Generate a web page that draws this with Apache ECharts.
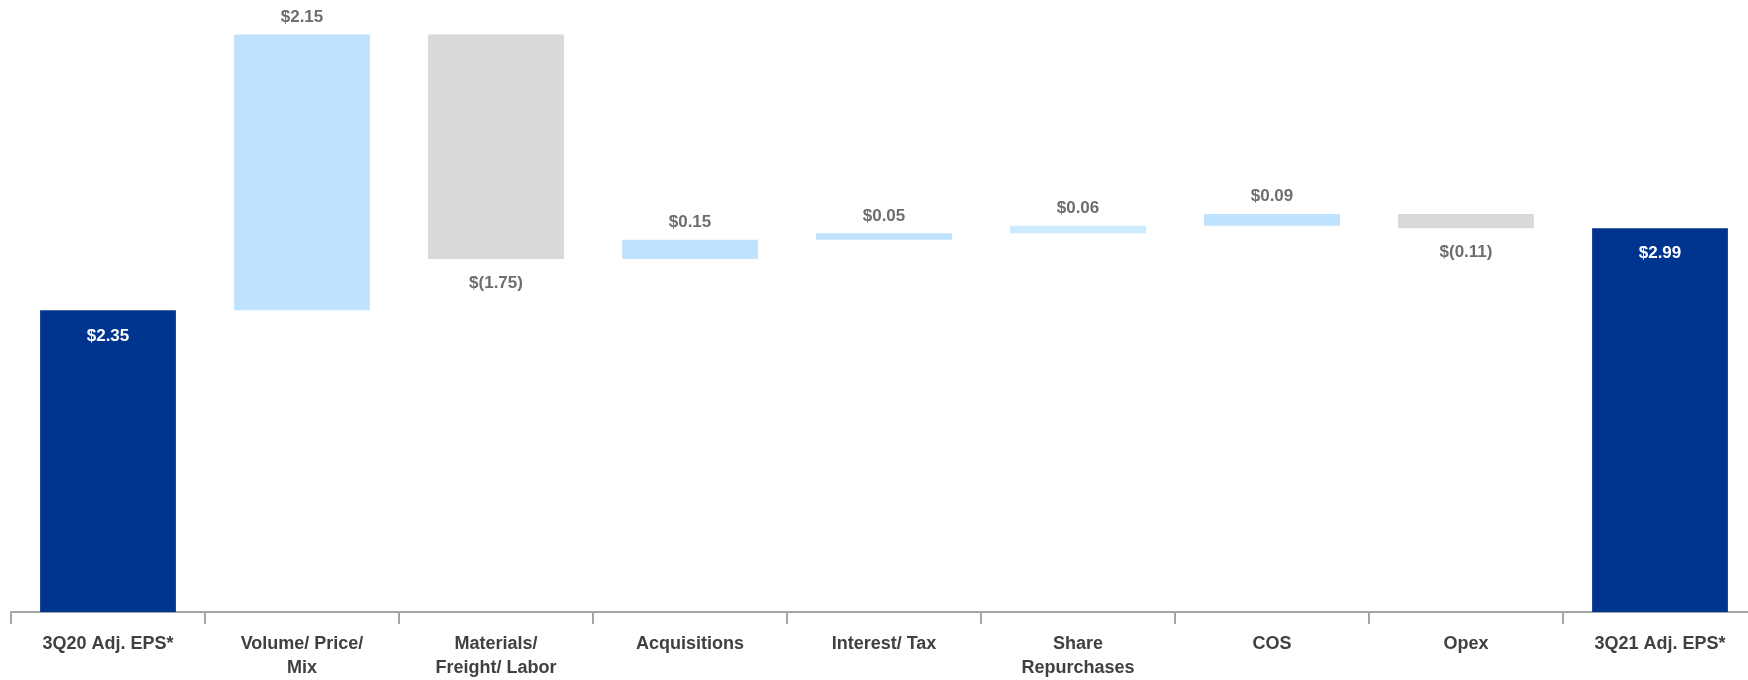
<!DOCTYPE html>
<html>
<head>
<meta charset="utf-8">
<script src="https://cdn.jsdelivr.net/npm/echarts@6/dist/echarts.min.js"></script>
<style>
  html, body { margin: 0; padding: 0; background: #ffffff; overflow: hidden; width: 1748px; height: 680px; }
  #wrap { position: relative; width: 1748px; height: 680px; overflow: hidden; }
  #chart { position: absolute; left: 0; top: 0; width: 1760px; height: 680px; }
</style>
</head>
<body>
<div id="wrap"><div id="chart"></div></div>
<script>
// ---- data ----
const categories = [
  '3Q20 Adj. EPS*', 'Volume/ Price/\nMix', 'Materials/\nFreight/ Labor', 'Acquisitions',
  'Interest/ Tax', 'Share\nRepurchases', 'COS', 'Opex', '3Q21 Adj. EPS*'
];
const values = [2.35, 2.15, -1.75, 0.15, 0.05, 0.06, 0.09, -0.11, 2.99];
const kinds = ['total', 'up', 'down', 'up', 'up', 'up', 'up', 'down', 'total'];

// ---- styles ----
const COLORS = { total: '#00358F', up: '#BFE3FF', down: '#D9D9D9' };
const LIGHTER_UP = '#CCEBFF';
const FONT = '"Liberation Sans", Arial, Helvetica, sans-serif';

function fmt(v) {
  return v < 0 ? '$(' + Math.abs(v).toFixed(2) + ')' : '$' + v.toFixed(2);
}

// build waterfall base / visible series
const baseData = [];
const barData = [];
let running = 0;
values.forEach((v, i) => {
  const k = kinds[i];
  let base, h;
  if (k === 'total') {
    base = 0; h = v; running = v;
  } else {
    const next = running + v;
    base = Math.min(running, next);
    h = Math.abs(v);
    running = next;
  }
  baseData.push(base);
  let color = COLORS[k];
  if (categories[i] === 'Share\nRepurchases') color = LIGHTER_UP;
  let label;
  if (k === 'total') {
    label = { show: true, position: 'insideTop', distance: 17, color: '#ffffff' };
  } else if (k === 'up') {
    label = { show: true, position: 'top', distance: 9, color: '#6E6E6E' };
  } else {
    label = { show: true, position: 'bottom', distance: 16, color: '#6E6E6E' };
  }
  barData.push({ value: h, raw: v, itemStyle: { color: color }, label: label });
});

const chart = echarts.init(document.getElementById('chart'), null, { renderer: 'canvas' });
chart.setOption({
  animation: false,
  backgroundColor: '#ffffff',
  grid: { left: 11, top: 10, width: 1746, height: 607, containLabel: false },
  xAxis: {
    type: 'category',
    data: categories,
    axisLine: { show: true, lineStyle: { color: '#A6A6A6', width: 2 } },
    axisTick: { show: true, length: 12, lineStyle: { color: '#A6A6A6', width: 2 } },
    axisLabel: {
      interval: 0,
      margin: 20,
      fontFamily: FONT,
      fontSize: 18,
      fontWeight: 'bold',
      color: '#404040',
      lineHeight: 24
    }
  },
  yAxis: {
    type: 'value', min: 0, max: 4.69, show: false,
    splitLine: { show: false }
  },
  series: [
    {
      type: 'bar', stack: 'wf', data: baseData, barWidth: '70%',
      itemStyle: { color: 'transparent' }, silent: true
    },
    {
      type: 'bar', stack: 'wf', data: barData, barWidth: '70%',
      label: {
        show: true,
        fontFamily: FONT, fontSize: 17, fontWeight: 'bold',
        formatter: p => fmt(p.data.raw)
      }
    }
  ]
});
</script>
</body>
</html>
